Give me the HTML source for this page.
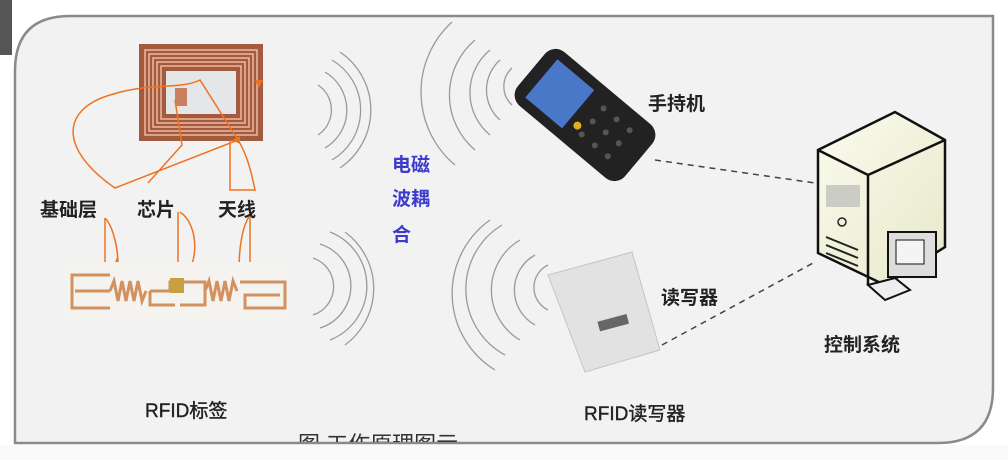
<!DOCTYPE html>
<html><head><meta charset="utf-8"><style>
html,body{margin:0;padding:0;background:#fff;}
svg{display:block;}
text{font-family:"Liberation Sans","Noto Sans CJK SC",sans-serif;}
</style></head><body>
<svg width="1008" height="460" viewBox="0 0 1008 460" xmlns="http://www.w3.org/2000/svg">
<defs>
<linearGradient id="tw" x1="0" y1="0" x2="1" y2="1"><stop offset="0" stop-color="#fbfbee"/><stop offset="1" stop-color="#e6e8c8"/></linearGradient>
<clipPath id="cp"><rect x="0" y="0" width="1008" height="442"/></clipPath>
</defs>
<rect width="1008" height="460" fill="#fff"/>
<path d="M0,0 L12,0 L12,55 L0,55Z" fill="#555"/>
<!-- panel -->
<path d="M70,16 L993,16 L993,388 Q993,443 938,443 L15,443 L15,71 Q15,16 70,16Z" fill="#f2f2f2" stroke="#8a8a8a" stroke-width="2.5"/>
<rect x="0" y="445" width="1008" height="15" fill="#fafafa"/>

<!-- waves -->
<g fill="none" stroke="#9a9a9a" stroke-width="1.3">
<path d="M318,85 A30,30 0 0 1 318,135"/><path d="M325,72 A44,44 0 0 1 325,148"/><path d="M332,60 A58,58 0 0 1 332,160"/><path d="M340,52 A70,70 0 0 1 340,168"/>
<path d="M313,258 A30,30 0 0 1 313,315"/><path d="M320,244 A44,44 0 0 1 320,328"/><path d="M330,232 A58,58 0 0 1 330,340"/><path d="M345,232 A70,70 0 0 1 345,345"/>
<path d="M512,68 A25,25 0 0 0 512,105"/><path d="M500,60 A40,40 0 0 0 500,120"/><path d="M490,50 A55,55 0 0 0 490,135"/><path d="M475,40 A72,72 0 0 0 475,150"/><path d="M452,22 A95,95 0 0 0 455,165"/>
<path d="M548,265 A25,25 0 0 0 548,310"/><path d="M535,255 A40,40 0 0 0 535,325"/><path d="M520,240 A58,58 0 0 0 520,340"/><path d="M502,225 A75,75 0 0 0 505,355"/><path d="M490,220 A90,90 0 0 0 495,370"/>
</g>

<!-- top tag -->
<rect x="139" y="44" width="124" height="97" fill="#a35a3e"/>
<g fill="none" stroke="#f2c2a8" stroke-width="1.4">
<rect x="145" y="50" width="112" height="85"/><rect x="149" y="54" width="104" height="77"/><rect x="153" y="58" width="96" height="69"/><rect x="157" y="62" width="88" height="61"/><rect x="161" y="66" width="80" height="53"/>
</g>
<rect x="166" y="71" width="70" height="43" fill="#e4e6e8"/>
<rect x="175" y="88" width="12" height="18" fill="#c98060"/>
<g fill="none" stroke="#ee7320" stroke-width="1.5">
<path d="M115,188 C60,150 60,110 110,95 C150,82 180,90 200,80 L238,140 Z"/>
<path d="M148,183 L182,145 L175,100"/>
<path d="M230,140 L230,190 L255,190 C250,165 245,150 235,135"/>
<path d="M105,218 L105,265 L118,265 C118,245 112,225 105,218"/>
<path d="M178,212 L178,282 C200,270 200,225 180,212"/>
<path d="M250,275 L250,215 C240,230 238,260 240,276"/>
</g>
<g fill="#ee7320"><path d="M255,80 l8,0 l-4,8z"/><path d="M232,140 l8,-4 l0,8z"/><path d="M114,265 l6,0 l-3,-8z"/><path d="M190,282 l8,-6 l2,8z"/><path d="M236,278 l8,-6 l2,8z"/></g>

<!-- bottom tag antenna -->
<rect x="62" y="262" width="228" height="60" fill="#f5f3f0"/>
<g fill="none" stroke="#d2915e" stroke-width="3">
<path d="M110,275 L72,275 L72,308 L110,308 M75,291 L110,291"/>
<path d="M110,291 l4,-10 l4,20 l4,-20 l4,20 l4,-20 l4,20 l4,-20 l4,20 l4,-10"/>
<path d="M150,291 L150,305 L175,305 M150,291 L170,291 L170,282 L205,282 L205,305 L180,305"/>
<path d="M205,291 l4,-10 l4,20 l4,-20 l4,20 l4,-20 l4,20 l4,-20 l4,10"/>
<path d="M240,282 L285,282 L285,308 L245,308 L245,295 L280,295"/>
</g>
<rect x="170" y="278" width="14" height="15" fill="#c9a040"/>

<!-- labels -->
<g font-size="19" font-weight="bold" fill="#222">
<text x="40" y="216">基础层</text><text x="137" y="216">芯片</text><text x="218" y="216">天线</text>
<text x="648" y="110">手持机</text><text x="661" y="304">读写器</text><text x="824" y="351">控制系统</text>
</g>
<g font-size="19" fill="#222" stroke="#222" stroke-width="0.4"><text x="145" y="417">RFID标签</text><text x="584" y="420">RFID读写器</text></g>
<text x="298" y="452" font-size="22" fill="#333" clip-path="url(#cp)">图 工作原理图示</text>
<g font-size="19" font-weight="bold" fill="#3c3ccc"><text x="392" y="171">电磁</text><text x="392" y="205">波耦</text><text x="392" y="241">合</text></g>

<!-- handheld -->
<g transform="rotate(-50 585 115)">
<rect x="550" y="45" width="70" height="140" rx="14" fill="#222"/>
<rect x="560" y="58" width="50" height="48" fill="#4a78c8"/>
<g fill="#555"><circle cx="568" cy="125" r="3"/><circle cx="585" cy="125" r="3"/><circle cx="602" cy="125" r="3"/><circle cx="568" cy="142" r="3"/><circle cx="585" cy="142" r="3"/><circle cx="602" cy="142" r="3"/><circle cx="568" cy="159" r="3"/><circle cx="585" cy="159" r="3"/><circle cx="602" cy="159" r="3"/></g>
<circle cx="572" cy="116" r="4" fill="#e0b020"/>
</g>
<!-- reader -->
<path d="M548,275 L632,252 L660,350 L585,372 Z" fill="#e2e2e2" stroke="#c4c4c4"/>
<rect x="598" y="318" width="30" height="10" fill="#666" transform="rotate(-15 612 322)"/>

<!-- dashed lines -->
<g stroke="#444" stroke-width="1.5" stroke-dasharray="6,5" fill="none"><path d="M655,160 L815,183"/><path d="M662,345 L815,262"/></g>

<!-- server -->
<path d="M818,150 L895,112 L945,140 L945,247 L885,285 L818,253 Z" fill="url(#tw)" stroke="#111" stroke-width="2.5"/>
<path d="M818,150 L868,175 L945,140 M868,175 L868,285" fill="none" stroke="#111" stroke-width="2.5"/>
<rect x="826" y="185" width="34" height="22" fill="#bbb" opacity=".7"/>
<circle cx="842" cy="222" r="4" fill="none" stroke="#222" stroke-width="1.5"/>
<g stroke="#222" stroke-width="2"><path d="M826,237 L858,250"/><path d="M826,245 L858,258"/><path d="M826,253 L858,266"/></g>
<rect x="888" y="232" width="48" height="45" fill="#ddd" stroke="#111" stroke-width="2"/>
<rect x="896" y="240" width="28" height="24" fill="#f4f4f4" stroke="#111"/>
<path d="M868,285 L895,278 L910,290 L885,300Z" fill="#eee" stroke="#111" stroke-width="2"/>
</svg>
</body></html>
